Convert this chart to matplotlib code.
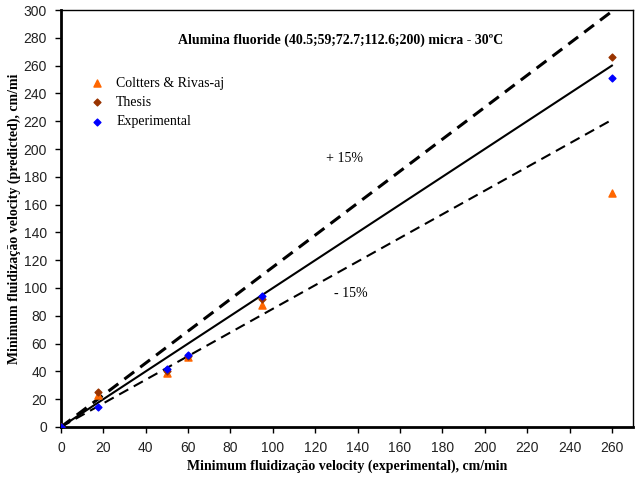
"""
Minimum fluidization velocity: predicted vs experimental (alumina fluoride)
"""

import numpy as np
import matplotlib.pyplot as plt

# measured velocities, cm/min
x_exp = [0, 17.5, 50, 60, 95, 260]

# predicted values
coltters = [0, 23, 38.5, 50.5, 88, 168]
thesis = [0, 25.5, 40, 51, 92, 266]
experimental = [0, 14.5, 41.5, 52, 94, 251]

# reference lines (y = x, +15%, -15%)
ref_x = [0, 17.5, 50, 60, 95, 260]
ref_mid = [0, 17.5, 50, 60, 95, 260]
ref_up = [0, 20.1, 57.5, 69, 109.3, 299]
ref_low = [0, 14.9, 42.5, 51, 80.8, 221]

x_ticks = list(range(0, 261, 20))
y_ticks = list(range(0, 301, 20))

serif = ['Liberation Serif', 'DejaVu Serif']
narrow = ['Liberation Sans Narrow', 'Liberation Sans', 'DejaVu Sans']

fig = plt.figure(figsize=(6.35, 4.79), dpi=100)
ax = fig.add_axes([0.096, 0.1086, 0.901, 0.8705])

ax.plot(ref_x, ref_mid, color='black', lw=1.5, zorder=2)
ax.plot(ref_x, ref_up, color='black', lw=2.2, ls=(0, (4, 2.5)), zorder=2)
ax.plot(ref_x, ref_low, color='black', lw=1.5, ls=(0, (5, 3)), zorder=2)

ax.scatter(x_exp, coltters, marker='^', s=26, color='#ff6600', label='Coltters & Rivas-aj', zorder=3)
ax.scatter(x_exp, thesis, marker='D', s=12, color='#993300', label='Thesis', zorder=4)
ax.scatter(x_exp, experimental, marker='D', s=12, color='#0000ff', label='Experimental', zorder=5)

ax.set_xlim(0, 270)
ax.set_ylim(0, 300)
ax.set_xticks(x_ticks)
ax.set_yticks(y_ticks)
for lab in ax.get_xticklabels() + ax.get_yticklabels():
    lab.set_family(narrow)
    lab.set_fontsize(10)
    lab.set_color('#222222')
ax.tick_params(direction='out', length=4, width=1, pad=6)

for s in ax.spines.values():
    s.set_linewidth(1.0)
ax.spines['left'].set_linewidth(2)
ax.spines['bottom'].set_linewidth(2)

ax.set_xlabel('Minimum fluidização velocity (experimental), cm/min',
              family=serif, fontweight='bold', fontsize=10, labelpad=3)
ax.set_ylabel('Minimum fluidização velocity (predicted), cm/mi',
              family=serif, fontweight='bold', fontsize=10, labelpad=2)

ax.text(132, 278, 'Alumina fluoride (40.5;59;72.7;112.6;200) micra - 30ºC',
        family=serif, fontweight='bold', fontsize=10, ha='center', va='center')
ax.text(134, 193, '+ 15%', family=serif, fontsize=10, ha='center', va='center')
ax.text(137, 96, '- 15%', family=serif, fontsize=10, ha='center', va='center')

leg = ax.legend(loc='upper left', bbox_to_anchor=(0.026, 0.87), frameon=False,
                prop={'family': serif, 'size': 10}, handletextpad=0.8,
                labelspacing=0.45, handlelength=1.2)

fig.savefig('out.png', dpi=100)
